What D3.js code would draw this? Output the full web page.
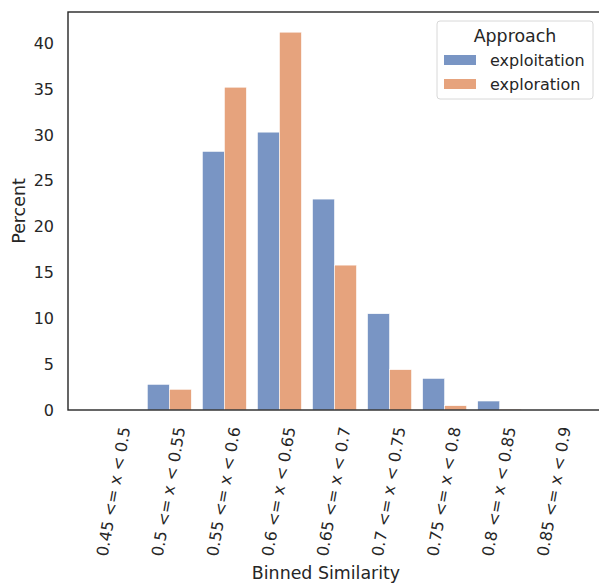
<!DOCTYPE html>
<html>
<head>
<meta charset="utf-8">
<script src="https://cdn.jsdelivr.net/npm/d3@7"></script>
<style>
  body { margin: 0; background: #fff; }
  svg { font-family: "DejaVu Sans", sans-serif; }
</style>
</head>
<body>
<svg width="599" height="584"></svg>
<script>
'use strict';

// bins and percentages per approach
const bins = ["0.45 <= x < 0.5", "0.5 <= x < 0.55", "0.55 <= x < 0.6", "0.6 <= x < 0.65",
  "0.65 <= x < 0.7", "0.7 <= x < 0.75", "0.75 <= x < 0.8", "0.8 <= x < 0.85", "0.85 <= x < 0.9"];
const approaches = ["exploitation", "exploration"];
const exploitation = [0, 2.8, 28.2, 30.3, 23.0, 10.5, 3.45, 0.98, 0];
const exploration = [0, 2.26, 35.2, 41.2, 15.8, 4.4, 0.47, 0.1, 0];
const yTicks = [0, 5, 10, 15, 20, 25, 30, 35, 40];

// seaborn "deep" palette
const colors = { exploitation: "#4c72b0", exploration: "#dd8452" };
const series = { exploitation, exploration };

const M = { left: 68, top: 12, right: 601, bottom: 410 };

const svg = d3.select("svg");

// axis range roughly -0.84 .. 8.84 bins
const x = d3.scaleLinear().domain([-0.84, 8.84]).range([M.left, M.right]);
const y = d3.scaleLinear().domain([0, 43.4]).range([M.bottom, M.top]);
const barW = x(0.4) - x(0);

// bars
approaches.forEach((a, k) => {
  svg.append("g").selectAll("rect")
    .data(series[a])
    .enter()
    .append("rect")
    .attr("x", (d, i) => x(i) - barW + k * barW)
    .attr("y", d => y(d))
    .attr("width", barW)
    .attr("height", d => y(0) - y(d))
    .attr("fill", colors[a])
    .attr("fill-opacity", 0.75)
    .attr("stroke", "#fff")
    .attr("stroke-width", 0.6);
});

// frame
svg.append("rect")
  .attr("x", M.left).attr("y", M.top)
  .attr("width", M.right - M.left).attr("height", M.bottom - M.top)
  .attr("fill", "none").attr("stroke", "#262626").attr("stroke-width", 1.4);

// y tick labels
svg.append("g").selectAll("text")
  .data(yTicks)
  .enter()
  .append("text")
  .attr("x", M.left - 14)
  .attr("y", d => y(d))
  .attr("dy", "0.36em")
  .attr("text-anchor", "end")
  .style("font-size", "16px")
  .style("fill", "#262626")
  .text(d => d);

// x tick labels, rotated 80 degrees, bbox centred on the bin
const cos80 = Math.cos(80 * Math.PI / 180);
svg.append("g").selectAll("text")
  .data(bins)
  .enter()
  .append("text")
  .attr("text-anchor", "end")
  .attr("dy", "0.36em")
  .style("font-size", "16px")
  .style("fill", "#262626")
  .text(d => d)
  .each(function(d, i) {
    const len = this.getComputedTextLength();
    const tx = x(i) + len * cos80 / 2 - 1;
    d3.select(this).attr("transform", `translate(${tx}, ${M.bottom + 17}) rotate(-80)`);
  });

// axis titles
svg.append("text")
  .attr("x", 326)
  .attr("y", 579)
  .attr("text-anchor", "middle")
  .style("font-size", "17.4px")
  .style("fill", "#262626")
  .text("Binned Similarity");

svg.append("text")
  .attr("transform", `translate(25, ${(M.top + M.bottom) / 2}) rotate(-90)`)
  .attr("text-anchor", "middle")
  .style("font-size", "17.4px")
  .style("fill", "#262626")
  .text("Percent");

// legend
const lg = svg.append("g").attr("transform", "translate(437, 21)");
lg.append("rect")
  .attr("width", 156).attr("height", 78).attr("rx", 3)
  .attr("fill", "#fff").attr("fill-opacity", 0.8)
  .attr("stroke", "#d8d8d8").attr("stroke-width", 1);
lg.append("text")
  .attr("x", 78).attr("y", 21)
  .attr("text-anchor", "middle")
  .style("font-size", "17.4px")
  .style("fill", "#262626")
  .text("Approach");
approaches.forEach((a, k) => {
  const row = lg.append("g").attr("transform", `translate(7, ${34 + k * 24})`);
  row.append("rect")
    .attr("width", 32).attr("height", 10)
    .attr("fill", colors[a]).attr("fill-opacity", 0.75);
  row.append("text")
    .attr("x", 46).attr("y", 5).attr("dy", "0.36em")
    .style("font-size", "16px")
    .style("fill", "#262626")
    .text(a);
});
</script>
</body>
</html>
